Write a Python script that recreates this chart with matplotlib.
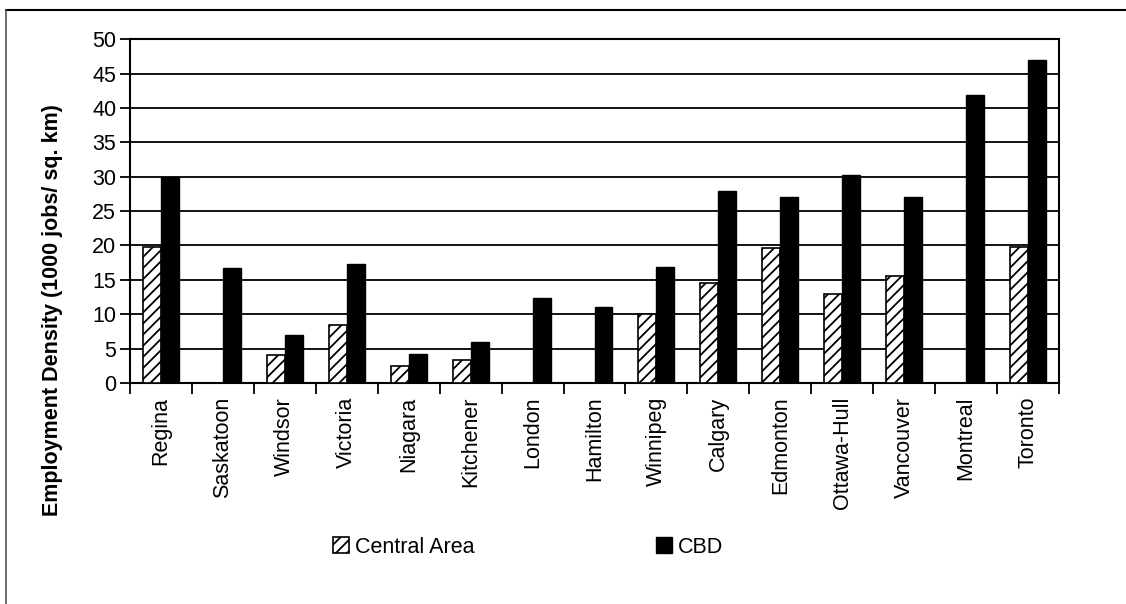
import matplotlib
matplotlib.use("Agg")
import matplotlib.pyplot as plt
import numpy as np
from matplotlib.lines import Line2D
from matplotlib.patches import Patch

plt.rcParams['font.family'] = ['Liberation Sans', 'DejaVu Sans']
plt.rcParams['hatch.linewidth'] = 1.3

cities = ["Regina", "Saskatoon", "Windsor", "Victoria", "Niagara", "Kitchener",
          "London", "Hamilton", "Winnipeg", "Calgary", "Edmonton", "Ottawa-Hull",
          "Vancouver", "Montreal", "Toronto"]
central_area = [19.8, 0, 4.1, 8.4, 2.5, 3.3, 0, 0, 10.1, 14.6, 19.7, 12.9, 15.5, 0, 19.8]
cbd = [30.0, 16.7, 7.0, 17.3, 4.2, 6.0, 12.3, 11.1, 16.9, 27.9, 27.1, 30.3, 27.1, 41.9, 47.0]
y_ticks = [0, 5, 10, 15, 20, 25, 30, 35, 40, 45, 50]

fig = plt.figure(figsize=(11.26, 6.04), dpi=100)
ax = fig.add_axes([0.1155, 0.366, 0.825, 0.569])

x = np.arange(len(cities))
w = 0.29
ax.bar(x - w / 2, central_area, width=w, facecolor="white", edgecolor="black",
       hatch="///", linewidth=1.2, zorder=3)
ax.bar(x + w / 2, cbd, width=w, facecolor="black", edgecolor="black",
       linewidth=1.0, zorder=3)

ax.set_xlim(-0.5, len(cities) - 0.5)
ax.set_ylim(0, 50)
ax.set_yticks(y_ticks)
ax.yaxis.grid(True, color="black", linewidth=1.3, zorder=0)
ax.set_axisbelow(True)

# category labels centred under groups, tick marks between groups
ax.set_xticks(x)
ax.set_xticklabels(cities, rotation=90, fontsize=15.5)
ax.tick_params(axis="x", length=0, pad=10)
ax.set_xticks(np.arange(-0.5, len(cities)), minor=True)
ax.tick_params(axis="x", which="minor", length=8, width=1.3, direction="out")
ax.tick_params(axis="y", length=7, width=1.3, direction="out", labelsize=15.5, pad=3)

for s in ax.spines.values():
    s.set_linewidth(1.5)
    s.set_color("black")

fig.text(53 / 1126, 1 - 310 / 604, "Employment Density (1000 jobs/ sq. km)",
         rotation=90, ha="center", va="center", fontsize=15.5, fontweight="bold")

handles = [Patch(facecolor="white", edgecolor="black", hatch="///", linewidth=1.2),
           Patch(facecolor="black", edgecolor="black")]
fig.legend(handles, ["Central Area", "CBD"], loc="center",
           bbox_to_anchor=(0.469, 0.094), ncol=2, frameon=False, fontsize=15.5,
           handlelength=0.75, handleheight=0.75, handletextpad=0.3,
           columnspacing=8.4)

# page frame
fig.add_artist(Line2D([0.005, 1.0], [0.983, 0.983], transform=fig.transFigure,
                      color="black", linewidth=1.5))
fig.add_artist(Line2D([0.005, 0.005], [0.0, 0.983], transform=fig.transFigure,
                      color="#555555", linewidth=1.2))

fig.savefig("out.png", dpi=100)
